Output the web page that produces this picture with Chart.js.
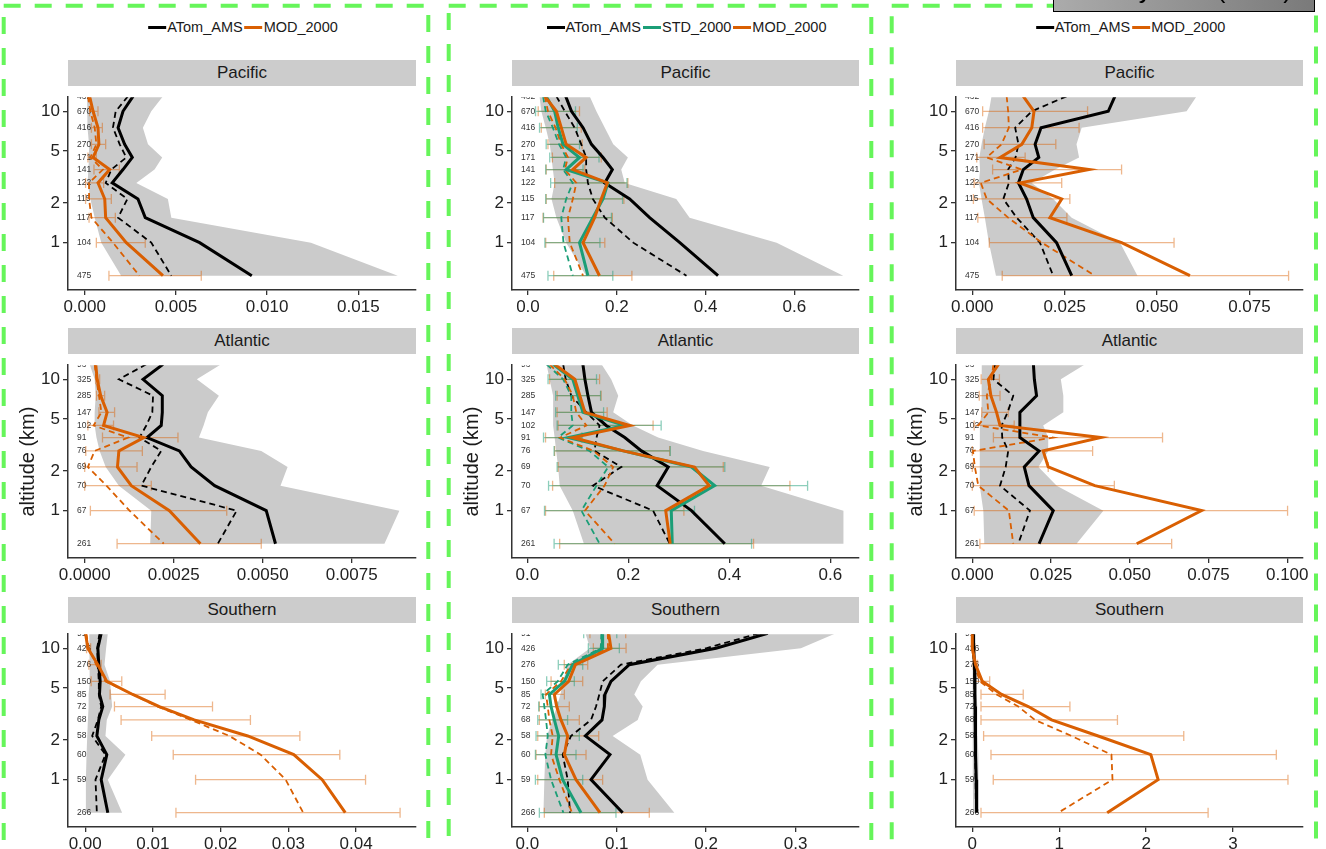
<!DOCTYPE html>
<html>
<head>
<meta charset="utf-8">
<title>ATom vertical profiles</title>
<script src="https://cdn.jsdelivr.net/npm/chart.js@4.4.1/dist/chart.umd.min.js"></script>
<style>
  body { margin: 0; width: 1326px; height: 849px; overflow: hidden; position: relative; background: #fff;
         font-family: "Liberation Sans", Arial, Helvetica, sans-serif; }
  canvas { position: absolute; z-index: 1; }
  .strip { position: absolute; height: 26px; line-height: 26px; background: #cccccc; color: #1a1a1a;
           font-size: 17px; text-align: center; z-index: 2; }
  .legend { position: absolute; top: 19px; transform: translateX(-50%); display: flex; align-items: center;
            font-size: 14.5px; color: #1a1a1a; white-space: nowrap; z-index: 2; }
  .legend i { display: inline-block; width: 18px; height: 3px; margin: 0 1px 0 2px; }
  #tag { position: absolute; left: 1053px; top: -30px; width: 260px; height: 40px; border: 1.5px solid #000;
         background: linear-gradient(to right, #ababab, #7a7a7a); z-index: 4; overflow: hidden; }
  #tag span { position: absolute; right: 22px; top: 5px; font-size: 26px; line-height: 1; color: #000; white-space: nowrap; }
  svg { position: absolute; left: 0; top: 0; z-index: 3; pointer-events: none; }
</style>
</head>
<body>
<svg width="1326" height="849">
  <g fill="none" stroke="#66f55a" stroke-width="4" stroke-dasharray="17 14">
    <rect x="3.7" y="5.7" width="424.6" height="1000"/>
    <rect x="448.7" y="5.7" width="422.6" height="1000"/>
    <rect x="891.7" y="5.7" width="424.3" height="1000"/>
  </g>
</svg>
<div id="tag"><span>Sensitivity runs (2016)</span></div>
<script>
// altitude bins (km), top to bottom, and number of samples in each bin
const levels = [13, 10, 7.5, 5.6, 4.45, 3.6, 2.85, 2.15, 1.55, 1.0, 0.56];
const nPac = [432, 670, 416, 270, 171, 141, 122, 115, 117, 104, 475];
const nAtl = [93, 325, 285, 147, 102, 91, 76, 69, 70, 67, 261];
const nSou = [91, 426, 276, 150, 85, 72, 68, 58, 60, 59, 266];
const altTicks = [1, 2, 5, 10];

// ---- left column ----
const pacA_lo = [0.00013, 0.00013, 0.00018, 0.00024, 0.00024, 0.00020, 0.00016, 0.00031, 0.00055, 0.00091, 0.0020];
const pacA_hi = [0.00429, 0.00365, 0.00319, 0.00347, 0.00425, 0.00383, 0.00283, 0.00456, 0.00475, 0.0124, 0.01716];
const pacA_mean = [0.00265, 0.0021, 0.00183, 0.00219, 0.00261, 0.0021, 0.00151, 0.00292, 0.00332, 0.0063, 0.00916];
const pacA_med = [0.00237, 0.0017, 0.00155, 0.00192, 0.00228, 0.00146, 0.00115, 0.00234, 0.00183, 0.00365, 0.00475];
const pacA_mod = [0.00027, 0.00046, 0.00073, 0.00078, 0.00046, 0.00137, 0.00073, 0.0011, 0.00115, 0.00228, 0.00429];
const pacA_modMed = [0.00018, 0.00031, 0.00055, 0.00064, 0.00031, 0.0010, 0.00024, 0.00024, 0.00037, 0.00155, 0.0030];
const pacA_modLo = [null, 0.00027, 0.00037, 0.00037, 0.00018, 0.00051, 0.00005, 0.00005, 0.00024, 0.00064, 0.00133];
const pacA_modHi = [null, 0.00073, 0.00097, 0.00115, 0.00064, 0.0019, 0.00104, 0.00146, 0.00168, 0.00332, 0.00639];
const pacA_ticks = [0, 0.005, 0.010, 0.015];
const pacA_range = [-0.000914, 0.01816];

const atlA_lo = [0.00014, 0.00028, 0.00031, 0.00028, 0.00028, 0.00033, 0.00042, 0.00059, 0.00096, 0.00187, 0.00184];
const atlA_hi = [0.00383, 0.00315, 0.00377, 0.00346, 0.00334, 0.00321, 0.00496, 0.0057, 0.0055, 0.00884, 0.00842];
const atlA_mean = [0.0022, 0.00164, 0.00218, 0.00218, 0.00215, 0.00175, 0.00266, 0.00299, 0.00365, 0.0051, 0.00536];
const atlA_med = [0.00173, 0.00096, 0.00192, 0.0019, 0.00173, 0.00154, 0.00215, 0.00187, 0.00159, 0.00427, 0.00374];
const atlA_mod = [0.00031, 0.00035, 0.00045, 0.00063, 0.00053, 0.00166, 0.00096, 0.00092, 0.00131, 0.00238, 0.00325];
const atlA_modMed = [0.00028, 0.00033, 0.0004, 0.00047, 0.00025, 0.00122, 0.00028, 0.00009, 0.00061, 0.00126, 0.00222];
const atlA_modLo = [null, 0.00031, 0.00033, 0.0004, 0.00009, 0.0005, 0.00003, 0.0, 0.0, 0.00016, 0.00091];
const atlA_modHi = [null, 0.00042, 0.00056, 0.00084, 0.00081, 0.00262, 0.00162, 0.00147, 0.00187, 0.00399, 0.00496];
const atlA_ticks = [0, 0.0025, 0.0050, 0.0075];
const atlA_range = [-0.000469, 0.009307];

const souA_lo = [0.0006, 0.0007, 0.0007, 0.0006, 0.0005, 0.0005, 0.0004, 0.0003, 0.0002, 0.0001, 0.0001];
const souA_hi = [0.00334, 0.00309, 0.00285, 0.00368, 0.00383, 0.00398, 0.00319, 0.00299, 0.00594, 0.00334, 0.00545];
const souA_mean = [0.00236, 0.00187, 0.00201, 0.00221, 0.00211, 0.0026, 0.00201, 0.00172, 0.00319, 0.00236, 0.00334];
const souA_med = [0.00211, 0.00177, 0.00187, 0.00201, 0.00201, 0.00236, 0.00187, 0.00103, 0.00299, 0.00152, 0.00172];
const souA_mod = [0.00005, 0.00039, 0.00187, 0.00319, 0.00702, 0.01095, 0.0161, 0.024, 0.0308, 0.035, 0.0384];
const souA_modMed = [0.00015, 0.00054, 0.00162, 0.00299, 0.00702, 0.0107, 0.0156, 0.0213, 0.0259, 0.0296, 0.0322];
const souA_modLo = [null, 0.0002, 0.00054, 0.00088, 0.00368, 0.00432, 0.0053, 0.00982, 0.013, 0.0163, 0.0134];
const souA_modHi = [null, 0.0008, 0.00236, 0.0054, 0.0118, 0.0188, 0.0244, 0.0317, 0.0376, 0.0414, 0.0465];
const souA_ticks = [0, 0.01, 0.02, 0.03, 0.04];
const souA_range = [-0.00254, 0.04885];

// ---- middle column (with STD_2000) ----
const pacB_lo = [0.026, 0.030, 0.040, 0.049, 0.053, 0.056, 0.060, 0.053, 0.064, 0.086, 0.131];
const pacB_hi = [0.139, 0.154, 0.173, 0.192, 0.225, 0.210, 0.218, 0.334, 0.364, 0.560, 0.710];
const pacB_mean = [0.085, 0.098, 0.124, 0.143, 0.169, 0.190, 0.173, 0.229, 0.274, 0.342, 0.428];
const pacB_med = [0.064, 0.083, 0.105, 0.120, 0.131, 0.131, 0.135, 0.146, 0.173, 0.237, 0.357];
const pacB_std = [0.041, 0.060, 0.068, 0.079, 0.116, 0.086, 0.180, 0.169, 0.146, 0.116, 0.135];
const pacB_stdMed = [0.034, 0.040, 0.056, 0.070, 0.086, 0.079, 0.101, 0.086, 0.075, 0.080, 0.101];
const pacB_stdLo = [null, 0.017, 0.026, 0.041, 0.049, 0.040, 0.051, 0.040, 0.035, 0.038, 0.045];
const pacB_stdHi = [null, 0.107, 0.111, 0.116, 0.160, 0.124, 0.223, 0.213, 0.188, 0.162, 0.191];
const pacB_mod = [0.038, 0.064, 0.075, 0.086, 0.131, 0.101, 0.179, 0.165, 0.150, 0.124, 0.161];
const pacB_modMed = [0.038, 0.045, 0.062, 0.075, 0.090, 0.083, 0.109, 0.101, 0.090, 0.094, 0.124];
const pacB_modLo = [null, 0.023, 0.030, 0.045, 0.055, 0.041, 0.060, 0.041, 0.034, 0.040, 0.058];
const pacB_modHi = [null, 0.116, 0.120, 0.122, 0.165, 0.128, 0.225, 0.216, 0.190, 0.173, 0.234];
const pacB_ticks = [0, 0.2, 0.4, 0.6];
const pacB_range = [-0.036, 0.7455];

const atlB_lo = [0.038, 0.044, 0.051, 0.051, 0.051, 0.054, 0.057, 0.061, 0.064, 0.090, 0.112];
const atlB_hi = [0.147, 0.166, 0.180, 0.170, 0.209, 0.259, 0.348, 0.480, 0.463, 0.626, 0.626];
const atlB_mean = [0.110, 0.114, 0.120, 0.127, 0.156, 0.193, 0.226, 0.279, 0.257, 0.325, 0.391];
const atlB_med = [0.071, 0.076, 0.087, 0.117, 0.143, 0.137, 0.133, 0.186, 0.130, 0.249, 0.282];
const atlB_std = [0.051, 0.090, 0.100, 0.110, 0.193, 0.081, 0.190, 0.325, 0.371, 0.285, 0.287];
const atlB_stdMed = [0.038, 0.071, 0.087, 0.087, 0.090, 0.061, 0.123, 0.160, 0.137, 0.107, 0.143];
const atlB_stdLo = [null, 0.041, 0.056, 0.056, 0.059, 0.032, 0.053, 0.059, 0.042, 0.034, 0.053];
const atlB_stdHi = [null, 0.137, 0.145, 0.151, 0.265, 0.109, 0.283, 0.391, 0.555, 0.331, 0.444];
const atlB_mod = [0.054, 0.094, 0.104, 0.114, 0.203, 0.090, 0.190, 0.331, 0.360, 0.274, 0.283];
const atlB_modMed = [0.044, 0.074, 0.090, 0.097, 0.117, 0.065, 0.131, 0.170, 0.153, 0.114, 0.173];
const atlB_modLo = [null, 0.044, 0.059, 0.059, 0.061, 0.036, 0.054, 0.061, 0.050, 0.036, 0.064];
const atlB_modHi = [null, 0.143, 0.146, 0.158, 0.249, 0.107, 0.282, 0.388, 0.520, 0.310, 0.448];
const atlB_ticks = [0, 0.2, 0.4, 0.6];
const atlB_range = [-0.0304, 0.6568];

const souB_lo = [0.065, 0.070, 0.045, 0.040, 0.037, 0.033, 0.028, 0.022, 0.020, 0.019, 0.018];
const souB_hi = [0.345, 0.306, 0.1457, 0.127, 0.1196, 0.129, 0.1234, 0.0954, 0.1263, 0.1345, 0.1644];
const souB_mean = [0.269, 0.211, 0.114, 0.0935, 0.0868, 0.0861, 0.0835, 0.0649, 0.0924, 0.0712, 0.1066];
const souB_med = [0.259, 0.200, 0.1047, 0.0842, 0.0805, 0.0768, 0.0712, 0.0488, 0.0395, 0.0451, 0.0477];
const souB_std = [0.0835, 0.0842, 0.0507, 0.0414, 0.0246, 0.0265, 0.0302, 0.035, 0.0321, 0.0395, 0.060];
const souB_stdMed = [0.083, 0.082, 0.0451, 0.0339, 0.0171, 0.019, 0.0209, 0.0228, 0.0201, 0.0265, 0.0403];
const souB_stdLo = [0.063, 0.0682, 0.0346, 0.0216, 0.0153, 0.0127, 0.0116, 0.0097, 0.009, 0.009, 0.0134];
const souB_stdHi = [0.100, 0.1029, 0.0619, 0.0525, 0.0302, 0.0339, 0.045, 0.0581, 0.0544, 0.0619, 0.0991];
const souB_mod = [0.0909, 0.0935, 0.0537, 0.0462, 0.0302, 0.0328, 0.0376, 0.0451, 0.0414, 0.0544, 0.0812];
const souB_modMed = [0.090, 0.0902, 0.0488, 0.0376, 0.0209, 0.0228, 0.0246, 0.0283, 0.0265, 0.0358, 0.0499];
const souB_modLo = [0.070, 0.0738, 0.0413, 0.0265, 0.0201, 0.0134, 0.0134, 0.0116, 0.0097, 0.0116, 0.019];
const souB_modHi = [0.110, 0.1104, 0.0675, 0.0619, 0.0414, 0.0469, 0.0581, 0.0798, 0.0656, 0.0842, 0.1364];
const souB_ticks = [0, 0.1, 0.2, 0.3];
const souB_range = [-0.0172, 0.371];

// ---- right column ----
const pacC_lo = [0.0052, 0.0045, 0.0034, 0.0025, 0.0019, 0.0021, 0.0018, 0.0025, 0.0034, 0.0045, 0.0064];
const pacC_hi = [0.0607, 0.058, 0.0296, 0.0282, 0.0289, 0.0224, 0.0161, 0.0219, 0.0269, 0.040, 0.0447];
const pacC_mean = [0.0386, 0.0368, 0.0186, 0.017, 0.018, 0.0138, 0.0125, 0.0147, 0.0165, 0.0228, 0.0269];
const pacC_med = [0.0255, 0.0161, 0.0116, 0.0125, 0.0117, 0.0097, 0.0099, 0.0084, 0.012, 0.0183, 0.0219];
const pacC_mod = [0.0138, 0.0167, 0.0161, 0.0134, 0.0075, 0.0316, 0.0129, 0.0242, 0.021, 0.0404, 0.0589];
const pacC_modMed = [0.0093, 0.0097, 0.0099, 0.0079, 0.0039, 0.0134, 0.0023, 0.0039, 0.0097, 0.0188, 0.0332];
const pacC_modLo = [null, 0.0028, 0.0028, 0.0032, 0.0012, 0.0055, 0.0005, 0.0003, 0.0015, 0.0046, 0.0081];
const pacC_modHi = [null, 0.0312, 0.0289, 0.0226, 0.0143, 0.0404, 0.0242, 0.0264, 0.0256, 0.0546, 0.0856];
const pacC_ticks = [0, 0.025, 0.050, 0.075];
const pacC_range = [-0.00441, 0.0895];

const atlC_lo = [0.003, 0.003, 0.003, 0.0028, 0.0024, 0.0024, 0.0024, 0.0022, 0.0024, 0.0035, 0.0038];
const atlC_hi = [0.0358, 0.0281, 0.0289, 0.0289, 0.0225, 0.0241, 0.0241, 0.021, 0.0268, 0.0416, 0.0331];
const atlC_mean = [0.0194, 0.0197, 0.0204, 0.0151, 0.0151, 0.0151, 0.0212, 0.0165, 0.018, 0.0257, 0.0212];
const atlC_med = [0.0072, 0.0067, 0.013, 0.0112, 0.0093, 0.0095, 0.0114, 0.0106, 0.0088, 0.0183, 0.0146];
const atlC_mod = [0.0083, 0.0051, 0.0059, 0.0077, 0.0088, 0.0408, 0.0225, 0.0241, 0.0389, 0.0728, 0.0522];
const atlC_modMed = [0.0067, 0.0061, 0.0046, 0.0051, 0.0019, 0.0257, 0.0002, 0.0008, 0.0019, 0.0116, 0.013];
const atlC_modLo = [null, 0.0028, 0.0022, 0.003, 0.0006, 0.0067, 0.0, 0.0, 0.0, 0.0006, 0.0024];
const atlC_modHi = [null, 0.0086, 0.0088, 0.0114, 0.0133, 0.0604, 0.0382, 0.0241, 0.0451, 0.1001, 0.0633];
const atlC_ticks = [0, 0.025, 0.050, 0.075, 0.100];
const atlC_range = [-0.00518, 0.105];

const souC_lo = [0.003, 0.003, 0.004, 0.005, 0.005, 0.006, 0.006, 0.006, 0.007, 0.008, 0.010];
const souC_hi = [0.030, 0.035, 0.045, 0.050, 0.050, 0.055, 0.060, 0.060, 0.070, 0.070, 0.075];
const souC_mean = [0.010, 0.015, 0.025, 0.030, 0.030, 0.032, 0.035, 0.035, 0.040, 0.045, 0.050];
const souC_med = [0.008, 0.012, 0.020, 0.025, 0.025, 0.027, 0.030, 0.030, 0.033, 0.038, 0.042];
const souC_mod = [0.0, 0.0, 0.038, 0.115, 0.337, 0.644, 0.912, 1.448, 2.054, 2.138, 1.552];
const souC_modMed = [0.0, 0.0, 0.023, 0.088, 0.280, 0.529, 0.720, 1.142, 1.601, 1.613, 0.989];
const souC_modLo = [null, 0.0, 0.01, 0.03, 0.10, 0.10, 0.10, 0.13, 0.215, 0.241, 0.10];
const souC_modHi = [null, 0.03, 0.06, 0.20, 0.586, 1.123, 1.670, 2.433, 3.498, 3.632, 2.713];
const souC_ticks = [0, 1, 2, 3];
const souC_range = [-0.1876, 3.805];

const ORANGE = '#d95f02', GREEN = '#1b9e77', BAND = '#cbcbcb';
const FONT = '"Liberation Sans", Arial, Helvetica, sans-serif';

// page layout (px)
const colLeft = [68, 512, 956], colW = [348, 347, 347];
const rowTop = [86, 354, 623], plotH = 204;
const Y_W = 58, X_H = 32, PAD_T = 2, PAD_R = 12;

const panels = [
  {row: 0, col: 0, name: 'Pacific', n: nPac, lo: pacA_lo, hi: pacA_hi, mean: pacA_mean, med: pacA_med,
   mod: pacA_mod, modMed: pacA_modMed, modLo: pacA_modLo, modHi: pacA_modHi, ticks: pacA_ticks, range: pacA_range, dec: 3},
  {row: 1, col: 0, name: 'Atlantic', n: nAtl, lo: atlA_lo, hi: atlA_hi, mean: atlA_mean, med: atlA_med,
   mod: atlA_mod, modMed: atlA_modMed, modLo: atlA_modLo, modHi: atlA_modHi, ticks: atlA_ticks, range: atlA_range, dec: 4},
  {row: 2, col: 0, name: 'Southern', n: nSou, lo: souA_lo, hi: souA_hi, mean: souA_mean, med: souA_med,
   mod: souA_mod, modMed: souA_modMed, modLo: souA_modLo, modHi: souA_modHi, ticks: souA_ticks, range: souA_range, dec: 2},
  {row: 0, col: 1, name: 'Pacific', n: nPac, lo: pacB_lo, hi: pacB_hi, mean: pacB_mean, med: pacB_med,
   std: pacB_std, stdMed: pacB_stdMed, stdLo: pacB_stdLo, stdHi: pacB_stdHi,
   mod: pacB_mod, modMed: pacB_modMed, modLo: pacB_modLo, modHi: pacB_modHi, ticks: pacB_ticks, range: pacB_range, dec: 1},
  {row: 1, col: 1, name: 'Atlantic', n: nAtl, lo: atlB_lo, hi: atlB_hi, mean: atlB_mean, med: atlB_med,
   std: atlB_std, stdMed: atlB_stdMed, stdLo: atlB_stdLo, stdHi: atlB_stdHi,
   mod: atlB_mod, modMed: atlB_modMed, modLo: atlB_modLo, modHi: atlB_modHi, ticks: atlB_ticks, range: atlB_range, dec: 1},
  {row: 2, col: 1, name: 'Southern', n: nSou, lo: souB_lo, hi: souB_hi, mean: souB_mean, med: souB_med,
   std: souB_std, stdMed: souB_stdMed, stdLo: souB_stdLo, stdHi: souB_stdHi,
   mod: souB_mod, modMed: souB_modMed, modLo: souB_modLo, modHi: souB_modHi, ticks: souB_ticks, range: souB_range, dec: 1},
  {row: 0, col: 2, name: 'Pacific', n: nPac, lo: pacC_lo, hi: pacC_hi, mean: pacC_mean, med: pacC_med,
   mod: pacC_mod, modMed: pacC_modMed, modLo: pacC_modLo, modHi: pacC_modHi, ticks: pacC_ticks, range: pacC_range, dec: 3},
  {row: 1, col: 2, name: 'Atlantic', n: nAtl, lo: atlC_lo, hi: atlC_hi, mean: atlC_mean, med: atlC_med,
   mod: atlC_mod, modMed: atlC_modMed, modLo: atlC_modLo, modHi: atlC_modHi, ticks: atlC_ticks, range: atlC_range, dec: 3},
  {row: 2, col: 2, name: 'Southern', n: nSou, lo: souC_lo, hi: souC_hi, mean: souC_mean, med: souC_med,
   mod: souC_mod, modMed: souC_modMed, modLo: souC_modLo, modHi: souC_modHi, ticks: souC_ticks, range: souC_range, dec: 0}
];

const legendItems = [
  [['ATom_AMS', '#000'], ['MOD_2000', ORANGE]],
  [['ATom_AMS', '#000'], ['STD_2000', GREEN], ['MOD_2000', ORANGE]],
  [['ATom_AMS', '#000'], ['MOD_2000', ORANGE]]
];

Chart.defaults.font.family = FONT;
Chart.defaults.animation = false;

const profile = arr => arr.map((v, i) => ({x: v, y: levels[i]}));

// counts + error bars, drawn right after the grey band so the lines sit on top
function overlayPlugin(p) {
  return {
    id: 'overlay',
    afterDatasetDraw(chart, args) {
      if (args.index !== chart.data.datasets.length - 1) return;
      const {ctx, chartArea: a, scales: {x, y}} = chart;
      ctx.save();
      ctx.beginPath();
      ctx.rect(a.left, a.top, a.right - a.left, a.bottom - a.top);
      ctx.clip();
      ctx.font = '8.5px ' + FONT;
      ctx.fillStyle = '#333';
      ctx.textBaseline = 'middle';
      p.n.forEach((c, i) => ctx.fillText(String(c), a.left + 9, y.getPixelForValue(levels[i])));
      const bars = [[p.modLo, p.modHi, 'rgba(217,95,2,0.45)']];
      if (p.std) bars.push([p.stdLo, p.stdHi, 'rgba(27,158,119,0.5)']);
      ctx.lineWidth = 1.3;
      for (const [lo, hi, col] of bars) {
        ctx.strokeStyle = col;
        levels.forEach((lev, i) => {
          if (lo[i] == null) return;
          const py = y.getPixelForValue(lev);
          const x0 = x.getPixelForValue(lo[i]), x1 = x.getPixelForValue(hi[i]);
          ctx.beginPath();
          ctx.moveTo(x0, py); ctx.lineTo(x1, py);
          ctx.moveTo(x0, py - 5); ctx.lineTo(x0, py + 5);
          ctx.moveTo(x1, py - 5); ctx.lineTo(x1, py + 5);
          ctx.stroke();
        });
      }
      ctx.restore();
    }
  };
}

function line(vals, color, width, dash) {
  return {data: profile(vals), borderColor: color, borderWidth: width, borderDash: dash || [],
          pointRadius: 0, showLine: true, fill: false, tension: 0};
}

function makePanel(p) {
  const W = Y_W + colW[p.col] + PAD_R, H = PAD_T + plotH + X_H;
  const cv = document.createElement('canvas');
  cv.width = W; cv.height = H;
  cv.style.width = W + 'px'; cv.style.height = H + 'px';
  cv.style.left = (colLeft[p.col] - Y_W) + 'px';
  cv.style.top = (rowTop[p.row] - PAD_T) + 'px';
  document.body.appendChild(cv);

  const strip = document.createElement('div');
  strip.className = 'strip';
  strip.textContent = p.name;
  strip.style.left = colLeft[p.col] + 'px';
  strip.style.width = colW[p.col] + 'px';
  strip.style.top = (rowTop[p.row] - 26) + 'px';
  document.body.appendChild(strip);

  // index 0 is drawn last (on top)
  const ds = [line(p.mod, ORANGE, 3)];
  if (p.std) ds.push(line(p.std, GREEN, 3));
  ds.push(line(p.mean, '#000', 3));
  ds.push(line(p.modMed, ORANGE, 1.8, [6, 4]));
  if (p.std) ds.push(line(p.stdMed, GREEN, 1.8, [6, 4]));
  ds.push(line(p.med, '#000', 1.8, [6, 4]));
  ds.push({data: profile(p.lo).concat(profile(p.hi).reverse()), backgroundColor: BAND,
           borderWidth: 0, pointRadius: 0, showLine: true, fill: 'shape'});

  const axisGrid = {drawOnChartArea: false, tickLength: 5, color: '#333', lineWidth: 1.3};
  const axisBorder = {display: true, color: '#333', width: 1.5};
  new Chart(cv, {
    type: 'scatter',
    data: {datasets: ds},
    plugins: [overlayPlugin(p)],
    options: {
      responsive: false,
      events: [],
      layout: {padding: {top: PAD_T, right: PAD_R, left: 0, bottom: 0}},
      plugins: {legend: {display: false}, tooltip: {enabled: false}},
      scales: {
        x: {
          type: 'linear', bounds: 'data', min: p.range[0], max: p.range[1],
          afterBuildTicks: s => { s.ticks = p.ticks.map(v => ({value: v})); },
          afterFit: s => { s.height = X_H; },
          ticks: {callback: v => Number(v).toFixed(p.dec), font: {size: 17}, color: '#222',
                  padding: 2, maxRotation: 0, autoSkip: false},
          grid: axisGrid, border: axisBorder
        },
        y: {
          type: 'logarithmic', bounds: 'data', min: 0.436, max: 12.8,
          afterBuildTicks: s => { s.ticks = altTicks.map(v => ({value: v})); },
          afterFit: s => { s.width = Y_W; },
          ticks: {callback: v => String(v), font: {size: 17}, color: '#222', padding: 3, autoSkip: false},
          grid: axisGrid, border: axisBorder,
          title: {display: p.row === 1, text: 'altitude (km)', font: {size: 20}, color: '#1a1a1a',
                  padding: {top: 6, bottom: 0}}
        }
      }
    }
  });
}

panels.forEach(makePanel);

legendItems.forEach((items, c) => {
  const lg = document.createElement('div');
  lg.className = 'legend';
  lg.style.left = (colLeft[c] + colW[c] / 2) + 'px';
  items.forEach(([label, color]) => {
    const sw = document.createElement('i');
    sw.style.background = color;
    const tx = document.createElement('span');
    tx.textContent = label;
    lg.appendChild(sw);
    lg.appendChild(tx);
  });
  document.body.appendChild(lg);
});
</script>
</body>
</html>
